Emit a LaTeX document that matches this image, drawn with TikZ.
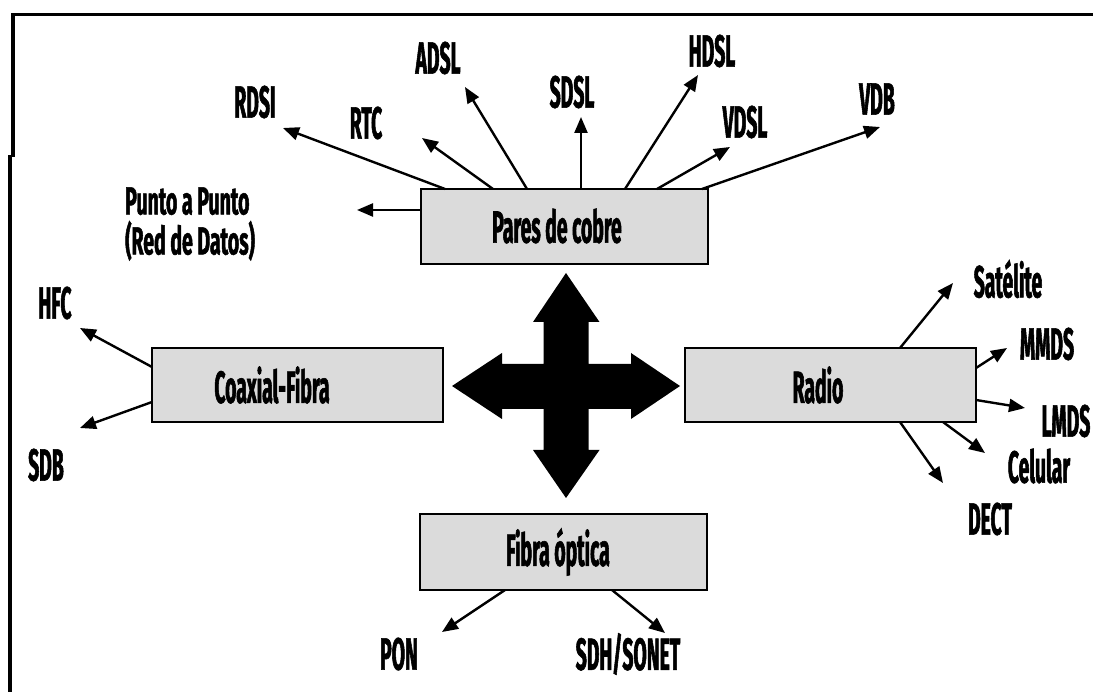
\documentclass[tikz,border=0pt]{standalone}
\usepackage{fontspec}
\newfontfamily\lab{Fira Sans}[FakeStretch=0.43, BoldFeatures={FakeBold=1.2}]
\newfontfamily\labw{Fira Sans}[FakeStretch=0.5, BoldFeatures={FakeBold=1.2}]
\usetikzlibrary{arrows.meta}
\begin{document}
\begin{tikzpicture}[x=1pt,y=-1pt,
  lbl/.style={font=\lab\bfseries\fontsize{45}{36}\selectfont, inner sep=0pt},
  box/.style={draw, line width=2.5pt, fill=gray!28, minimum width=287pt, minimum height=75pt, inner sep=0pt},
  arr/.style={line width=2.4pt, -{Triangle[length=16pt,width=13pt]}}]
\useasboundingbox (0,0) rectangle (1093,692);
% frame
\draw[line width=3.5pt] (1093,14.5) -- (13,14.5) -- (13,157);
\draw[line width=3.5pt] (10,155) -- (10,692);
% boxes
\node[box] (pares) at (564.5,226.5) {};
\node[box, minimum width=291pt, minimum height=74pt] (coax) at (297.5,385) {};
\node[box, minimum width=291pt, minimum height=74pt] (radio) at (830.5,385) {};
\node[box, minimum height=76pt] (fibra) at (563.5,552) {};
\node[lbl] (paresT) at (557,226) {Pares de cobre};
\node[lbl] (coaxT) at (272,385) {Coaxial-Fibra};
\node[lbl] (radioT) at (818,385) {Radio};
\node[lbl] (fibraT) at (558,552) {Fibra óptica};
% central cross
\fill (566,273) -- (599.5,322) -- (588.5,322) -- (588.5,364) -- (631,364) -- (631,353)
  -- (680,386) -- (631,419) -- (631,409) -- (588.5,409) -- (588.5,450) -- (599.5,450)
  -- (566,498) -- (533,450) -- (543.5,450) -- (543.5,409) -- (502,409) -- (502,419)
  -- (452,386) -- (502,353) -- (502,364) -- (543.5,364) -- (543.5,322) -- (533,322) -- cycle;
% labels
\node[lbl] (rdsi) at (255,102) {RDSI};
\node[lbl] (rtc) at (366,123) {RTC};
\node[lbl] (adsl) at (438,58) {ADSL};
\node[lbl] (sdsl) at (572,92) {SDSL};
\node[lbl] (hdsl) at (712,51) {HDSL};
\node[lbl] (vdsl) at (745,122) {VDSL};
\node[lbl] (vdb) at (877,99) {VDB};
\node[lbl, align=left, anchor=west, font=\labw\bfseries\fontsize{39}{40}\selectfont] (punto) at (125,224) {Punto a Punto\\(Red de Datos)};
\node[lbl] (hfc) at (55,303) {HFC};
\node[lbl] (sdb) at (46,465) {SDB};
\node[lbl] (sat) at (1008,279) {Satélite};
\node[lbl] (mmds) at (1047,344) {MMDS};
\node[lbl] (lmds) at (1066,421) {LMDS};
\node[lbl] (cel) at (1039,466) {Celular};
\node[lbl] (dect) at (990,519) {DECT};
\node[lbl] (pon) at (399,654) {PON};
\node[lbl] (sdh) at (628,654) {SDH/SONET};
% arrow start and end points
\coordinate (s1) at (445,189); \coordinate (t1) at (283,128);
\coordinate (s2) at (493,189); \coordinate (t2) at (422,138);
\coordinate (s3) at (527,189); \coordinate (t3) at (465,87);
\coordinate (s4) at (581,189); \coordinate (t4) at (581,117);
\coordinate (s5) at (625,189); \coordinate (t5) at (698,75);
\coordinate (s6) at (657,189); \coordinate (t6) at (730,147);
\coordinate (s7) at (702,189); \coordinate (t7) at (880,127);
\coordinate (s8) at (421,210); \coordinate (t8) at (357,210);
\coordinate (s9) at (152,367); \coordinate (t9) at (80,328);
\coordinate (s10) at (152,402); \coordinate (t10) at (80,428);
\coordinate (s11) at (900,348); \coordinate (t11) at (953,283);
\coordinate (s12) at (976,368); \coordinate (t12) at (1007,348);
\coordinate (s13) at (976,400); \coordinate (t13) at (1025,408);
\coordinate (s14) at (943,422); \coordinate (t14) at (985,453);
\coordinate (s15) at (900,422); \coordinate (t15) at (943,483);
\coordinate (s16) at (505,590); \coordinate (t16) at (442,632);
\coordinate (s17) at (612,590); \coordinate (t17) at (665,633);
\foreach \i in {1,...,17} {\draw[arr] (s\i) -- (t\i);}
\end{tikzpicture}
\end{document}
